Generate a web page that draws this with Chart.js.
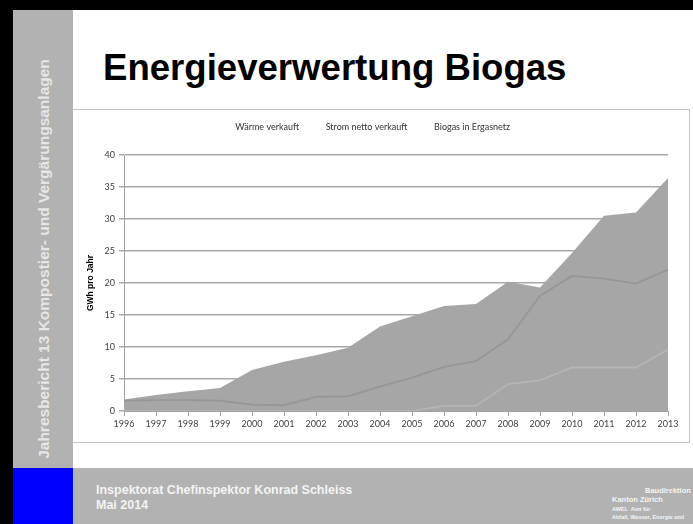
<!DOCTYPE html>
<html>
<head>
<meta charset="utf-8">
<script src="https://cdn.jsdelivr.net/npm/chart.js@4.4.1/dist/chart.umd.min.js"></script>
<style>
  html,body{margin:0;padding:0;background:#fff;}
  #slide{position:relative;width:693px;height:524px;overflow:hidden;background:#fff;font-family:"Liberation Sans",Arial,sans-serif;}
  .abs{position:absolute;}
  #side-text{left:44px;top:259px;width:440px;margin-left:-220px;margin-top:-9px;transform:rotate(-90deg);text-align:center;color:#e6e6e6;font-weight:bold;font-size:15.5px;white-space:nowrap;line-height:18px;}
  #title{left:103px;top:47px;font-weight:bold;font-size:36.6px;color:#000;white-space:nowrap;}
  #chartbox{left:73px;top:109px;width:616px;height:332px;border:1px solid #c4c4c4;border-left:none;}
  #foot1{left:96px;top:483px;color:#f4f4f4;font-weight:bold;font-size:12.5px;white-space:nowrap;line-height:15px;}
  .logo{color:#f4f4f4;font-weight:bold;white-space:nowrap;}
</style>
</head>
<body>
<div id="slide">
  <div class="abs" style="left:0;top:0;width:693px;height:10px;background:#000"></div>
  <div class="abs" style="left:0;top:0;width:13px;height:524px;background:#000"></div>
  <div class="abs" style="left:13px;top:10px;width:60px;height:458px;background:#b2b2b2"></div>
  <div class="abs" style="left:13px;top:468px;width:60px;height:56px;background:#0000ff"></div>
  <div class="abs" style="left:73px;top:468px;width:620px;height:56px;background:#b2b2b2"></div>
  <div class="abs" id="side-text">Jahresbericht 13 Kompostier- und Vergärungsanlagen</div>
  <div class="abs" id="title">Energieverwertung Biogas</div>
  <div class="abs" id="chartbox"><canvas id="c" width="616" height="332"></canvas></div>
  <div class="abs" id="foot1">Inspektorat Chefinspektor Konrad Schleiss<br>Mai 2014</div>
  <div class="abs logo" style="left:645px;top:486px;font-size:7.5px">Baudirektion</div>
  <div class="abs logo" style="left:612px;top:495px;font-size:7.5px">Kanton Zürich</div>
  <div class="abs logo" style="left:612px;top:506px;font-size:5.5px">AWEL&nbsp; Amt für</div>
  <div class="abs logo" style="left:612px;top:514px;font-size:5.5px">Abfall, Wasser, Energie und</div>
</div>
<script>
const years=['1996','1997','1998','1999','2000','2001','2002','2003','2004','2005','2006','2007','2008','2009','2010','2011','2012','2013'];
// stacked bottom to top
const biogasNetz=[0,0,0,0,0,0,0,0,0,0,0.8,0.8,4.2,4.8,6.8,6.8,6.8,9.6];
const stromNetto=[1.6,1.7,1.7,1.6,1.0,0.9,2.2,2.3,3.8,5.2,6.1,7.0,7.0,13.2,14.3,13.9,13.1,12.5];
const waerme=[0.2,0.8,1.4,2.0,5.4,6.8,6.5,7.6,9.4,9.6,9.5,8.9,9.0,1.3,3.6,9.8,11.1,14.3];
const yTicks=[0,5,10,15,20,25,30,35,40];

const fill='#a6a6a6';
function ds(label,data,line,fillMode){
  return {label:label,data:data,backgroundColor:fill,borderColor:line,borderWidth:line?1.8:0,
    fill:fillMode,pointRadius:0,tension:0};
}
// extra room between legend and plot
const legendGap={id:'legendGap',afterInit(chart){
  const L=chart.legend;if(!L)return;
  const f=L.fit;L.fit=function(){f.call(this);this.height+=13;};
}};
new Chart(document.getElementById('c').getContext('2d'),{
  type:'line',
  data:{labels:years,datasets:[
    ds('Biogas in Ergasnetz',biogasNetz,'#b4b4b4','origin'),
    ds('Strom netto verkauft',stromNetto,'#979797','-1'),
    ds('Wärme verkauft',waerme,null,'-1')
  ]},
  plugins:[legendGap],
  options:{
    responsive:false,animation:false,
    layout:{padding:{left:0,right:21,top:-9,bottom:0}},
    plugins:{
      legend:{reverse:true,labels:{boxWidth:0,boxHeight:0,padding:22,color:'#333',font:{family:'Lato',size:9}}},
      tooltip:{enabled:false}
    },
    scales:{
      x:{
        grid:{drawOnChartArea:false,drawTicks:true,tickLength:5,color:'#a0a0a0'},
        border:{color:'#a0a0a0'},
        ticks:{color:'#404040',font:{family:'Lato',size:9},maxRotation:0,autoSkip:false,padding:3},
        afterFit:s=>{s.height=31;}
      },
      y:{
        stacked:true,min:0,max:40,z:1,
        afterBuildTicks:s=>{s.ticks=yTicks.map(v=>({value:v}));},
        grid:{color:'rgba(60,60,60,0.45)',lineWidth:1.5,tickLength:5},
        border:{color:'#a0a0a0'},
        ticks:{color:'#404040',font:{family:'Lato',size:9},padding:4},
        title:{display:true,text:'GWh pro Jahr',color:'#000',font:{family:'Liberation Sans',size:8.5,weight:'bold'},padding:{top:13,bottom:0}},
        afterFit:s=>{s.width=51;}
      }
    }
  }
});
</script>
</body>
</html>
